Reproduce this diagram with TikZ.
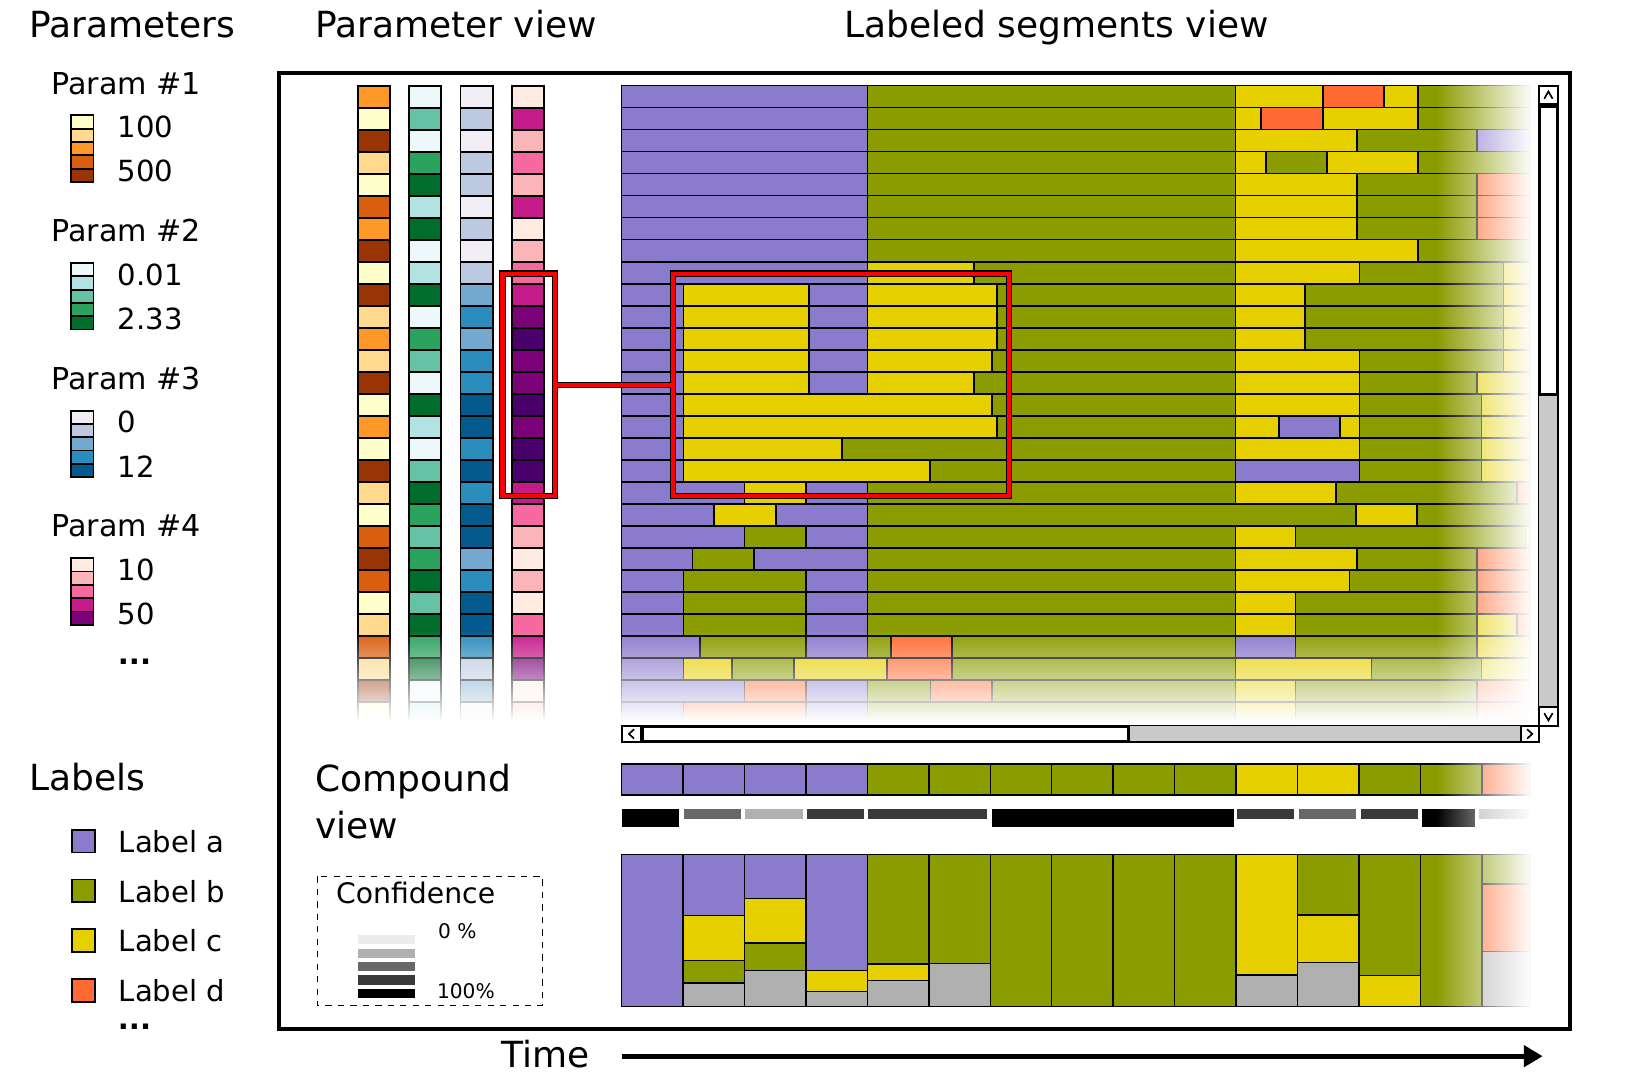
\documentclass[tikz,border=0pt]{standalone}
\usepackage{fontspec}
\setmainfont{DejaVu Sans}
\usetikzlibrary{arrows.meta,fadings}

\definecolor{la}{HTML}{8B7BCC}
\definecolor{lb}{HTML}{8B9C00}
\definecolor{lc}{HTML}{E6D000}
\definecolor{ld}{HTML}{FF6B33}
\definecolor{lg}{HTML}{B0B0B0}
\definecolor{pa1}{HTML}{FFFFCC}\definecolor{pa2}{HTML}{FED98E}\definecolor{pa3}{HTML}{FE9929}
\definecolor{pa4}{HTML}{D95F0E}\definecolor{pa5}{HTML}{993404}
\definecolor{pb1}{HTML}{EDF8FB}\definecolor{pb2}{HTML}{B2E2E2}\definecolor{pb3}{HTML}{66C2A4}
\definecolor{pb4}{HTML}{2CA25F}\definecolor{pb5}{HTML}{006D2C}
\definecolor{pc1}{HTML}{F1EEF6}\definecolor{pc2}{HTML}{BDC9E1}\definecolor{pc3}{HTML}{74A9CF}
\definecolor{pc4}{HTML}{2B8CBE}\definecolor{pc5}{HTML}{045A8D}
\definecolor{pd1}{HTML}{FEEBE2}\definecolor{pd2}{HTML}{FBB4B9}\definecolor{pd3}{HTML}{F768A1}
\definecolor{pd4}{HTML}{C51B8A}\definecolor{pd5}{HTML}{7A0177}\definecolor{pd6}{HTML}{49006A}
\definecolor{cf0}{HTML}{ECECEC}\definecolor{cf1}{HTML}{B0B0B0}\definecolor{cf2}{HTML}{686868}
\definecolor{cf3}{HTML}{3A3A3A}\definecolor{cf4}{HTML}{000000}

\tikzset{
  seg/.style={draw=black, line width=0.75pt},
  cell/.style={draw=black, line width=0.9pt},
  ttl/.style={anchor=base west, inner sep=0pt, font=\fontsize{17.3}{20}\selectfont},
  itm/.style={anchor=base west, inner sep=0pt, font=\fontsize{14}{17}\selectfont},
  tiny/.style={anchor=base west, inner sep=0pt, font=\fontsize{9.7}{12}\selectfont},
  selbox/.style={draw=black, double=red, line width=0.5pt, double distance=2.2pt,
    inner sep=0pt, outer sep=0pt, minimum height=106.8pt},
  sellink/.style={draw=black, double=red, line width=0.5pt, double distance=2.2pt},
  knob/.style={draw=black, line width=1pt, fill=white},
  trough/.style={draw=black, line width=0.8pt, fill=black!21},
  timeline/.style={line width=2.5pt, -{Triangle[length=9pt,width=10pt]}}
}

\begin{document}
\begin{tikzpicture}[x=0.5pt, y=-0.5pt]
\useasboundingbox (0,0) rectangle (1568,1039);

\node[ttl] (ttlparams) at (28,36) {Parameters};
\node[ttl] (ttlpview) at (303,36) {Parameter view};
\node[ttl] (ttlseg) at (812,36) {Labeled segments view};

\foreach \i/\lo/\hi/\p in {1/100/500/pa, 2/0.01/2.33/pb, 3/0/12/pc, 4/10/50/pd} {
  \pgfmathsetmacro\yb{90.5+142*(\i-1)}
  \node[itm, font=\fontsize{14.5}{17}\selectfont] (param\i) at (49,\yb) {Param \#\i};
  \node[itm] (lo\i) at (113,\yb+42) {\lo};
  \node[itm] (hi\i) at (113,\yb+84.5) {\hi};
  \foreach \j in {1,...,5}
    \draw[cell, fill=\p\j] (68,\yb+20.5+12.8*\j-12.8) rectangle (90,\yb+20.5+12.8*\j);
}
\node[itm, font=\fontsize{14}{17}\selectfont\bfseries] (moreparams) at (113,639) {...};

\node[ttl] (ttllabels) at (28,760.6) {Labels};
\foreach \c/\t [count=\i from 0] in {la/a, lb/b, lc/c, ld/d} {
  \draw[cell, fill=\c] (69,798+48*\i) rectangle (91,820+48*\i);
  \node[itm] (label\t) at (114,819.7+48*\i) {Label \t};
}
\node[itm, font=\fontsize{14}{17}\selectfont\bfseries] (morelabels) at (113,990) {...};

\foreach \k/\a/\b/\c/\d in {0/3/1/1/1, 1/1/3/2/4, 2/5/1/1/2, 3/2/4/2/3, 4/1/5/2/2, 5/4/2/1/4,
    6/3/5/2/1, 7/5/1/1/2, 8/1/2/2/3, 9/5/5/3/4, 10/2/1/4/5, 11/3/4/3/6, 12/2/3/4/5, 13/5/1/4/5,
    14/1/5/5/6, 15/3/2/5/5, 16/1/1/4/6, 17/5/3/5/6, 18/2/5/4/4, 19/1/4/5/3, 20/4/3/5/2,
    21/5/4/3/1, 22/4/5/4/2, 23/1/3/5/1, 24/2/5/5/3, 25/4/4/4/4, 26/2/5/2/5, 27/5/1/3/1, 28/1/2/1/2} {
  \pgfmathsetmacro\ya{82.4+21.17*\k}
  \pgfmathsetmacro\yb{\ya+21.17}
  \draw[cell, fill=pa\a] (344,\ya) rectangle (375,\yb);
  \draw[cell, fill=pb\b] (393.5,\ya) rectangle (424.5,\yb);
  \draw[cell, fill=pc\c] (443,\ya) rectangle (474,\yb);
  \draw[cell, fill=pd\d] (492.5,\ya) rectangle (523.5,\yb);
}

\foreach \k/\s in {
    0/{834.5/la,1188.5/lb,1272.8/lc,1331.4/ld,1363.9/lc,1472/lb},
    1/{834.5/la,1188.5/lb,1213/lc,1272.8/ld,1363.9/lc,1472/lb},
    2/{834.5/la,1188.5/lb,1305.4/lc,1420.9/lb,1472/la},
    3/{834.5/la,1188.5/lb,1217.6/lc,1276.7/lb,1363.9/lc,1472/lb},
    4/{834.5/la,1188.5/lb,1305.4/lc,1420.9/lb,1472/ld},
    5/{834.5/la,1188.5/lb,1305.4/lc,1420.9/lb,1472/ld},
    6/{834.5/la,1188.5/lb,1305.4/lc,1420.9/lb,1472/ld},
    7/{834.5/la,1188.5/lb,1363.9/lc,1472/lb},
    8/{834.5/la,937/lc,1188.5/lb,1307.9/lc,1446.2/lb,1472/lc},
    9/{657.4/la,778/lc,834.5/la,959/lc,1188.5/lb,1255.3/lc,1446.2/lb,1472/lc},
    10/{657.4/la,778/lc,834.5/la,959/lc,1188.5/lb,1255.3/lc,1446.2/lb,1472/lc},
    11/{657.4/la,778/lc,834.5/la,959/lc,1188.5/lb,1255.3/lc,1446.2/lb,1472/lc},
    12/{657.4/la,778/lc,834.5/la,954/lc,1188.5/lb,1307.9/lc,1446.2/lb,1472/lc},
    13/{657.4/la,778/lc,834.5/la,937/lc,1188.5/lb,1307.9/lc,1420.9/lb,1472/lc},
    14/{657.4/la,954/lc,1188.5/lb,1307.9/lc,1425/lb,1472/lc},
    15/{657.4/la,959/lc,1188.5/lb,1230.6/lc,1289.1/la,1307.9/lc,1425/lb,1472/lc},
    16/{657.4/la,810/lc,1188.5/lb,1307.9/lc,1425/lb,1472/lc},
    17/{657.4/la,894.7/lc,1188.5/lb,1307.9/la,1425/lb,1472/lc},
    18/{716/la,775.4/lc,834.5/la,1188.5/lb,1284.9/lc,1459.2/lb,1472/ld},
    19/{687/la,746.5/lc,834.5/la,1304.4/lb,1363.2/lc,1472/lb},
    20/{716/la,775.4/lb,834.5/la,1188.5/lb,1246.2/lc,1467.3/lb,1472/lc},
    21/{666/la,725.4/lb,834.5/la,1188.5/lb,1305.4/lc,1420.9/lb,1472/ld},
    22/{657.4/la,775.4/lb,834.5/la,1188.5/lb,1298.2/lc,1420.9/lb,1472/ld},
    23/{657.4/la,775.4/lb,834.5/la,1188.5/lb,1246.2/lc,1420.9/lb,1472/ld},
    24/{657.4/la,775.4/lb,834.5/la,1188.5/lb,1246.2/lc,1420.9/lb,1459.2/lc,1472/ld},
    25/{673.4/la,775.4/lb,834.5/la,857/lb,916/ld,1188.5/lb,1246.2/la,1420.9/lb,1472/lc},
    26/{657.4/la,704/lc,764/lb,853/lc,916/ld,1188.5/lb,1319.4/lc,1425/lb,1472/lc},
    27/{716/la,775.4/ld,834.5/la,895/lb,954.3/ld,1188.5/lb,1246.2/lc,1420.9/lb,1472/ld},
    28/{657.4/la,775.4/ld,834.5/la,1188.5/lb,1246.2/lc,1420.9/lb,1472/ld}} {
  \pgfmathsetmacro\ya{82.4+21.17*\k}
  \pgfmathsetmacro\yb{\ya+21.17}
  \foreach \x/\c [remember=\x as \lx (initially 598)] in \s
    \draw[seg, fill=\c] (\lx,\ya) rectangle (\x,\yb);
}

\fill[white, path fading=west] (1382,78) rectangle (1474,697);
\fill[white, path fading=north] (338,606) rectangle (530,694);
\fill[white, path fading=north] (594,606) rectangle (1474,694);
\fill[white] (338,694) rectangle (1474,697);

\node[selbox, minimum width=25.3pt] (sel) at (508.7,370.2) {};
\node[selbox, minimum width=161.5pt] (zoom) at (809,370.2) {};
\draw[sellink] ([xshift=1.1pt]sel.east) -- ([xshift=-1.1pt]zoom.west);
\draw[red, line width=2.2pt] (sel.east) -- (zoom.west);

\draw[trough] (1480,82.6) rectangle (1499,698);
\draw[knob] (1480,82.6) rectangle (1499,100);
\draw[knob, line width=1.4pt] (1481,102.5) rectangle (1498,379.5);
\draw[knob] (1480,680.5) rectangle (1499,698);
\draw[line width=0.8pt] (1485.5,95) -- (1489.5,88) -- (1493.5,95);
\draw[line width=0.8pt] (1485.5,686) -- (1489.5,693) -- (1493.5,686);
\draw[trough] (598,698) rectangle (1480,714);
\draw[knob] (598,698) rectangle (617,714);
\draw[knob, line width=1.4pt] (618,699) rectangle (1085.8,713);
\draw[knob] (1463,698) rectangle (1480,714);
\draw[line width=0.8pt] (610,701.5) -- (605,706) -- (610,710.5);
\draw[line width=0.8pt] (1469,701.5) -- (1474,706) -- (1469,710.5);

\node[ttl] (ttlcomp) at (303,761) {Compound};
\node[ttl] (ttlcomp2) at (303,807) {view};

\foreach \c [count=\i from 0] in {la,la,la,la,lb,lb,lb,lb,lb,lb,lc,lc,lb,lb,ld} {
  \pgfmathsetmacro\xa{598+59.1*\i}
  \pgfmathsetmacro\xb{min(\xa+59.1,1472)}
  \draw[seg, fill=\c] (\xa,735) rectangle (\xb,765);
}
\foreach \xa/\xb/\c/\yb in {598/653.6/cf4/796, 657.5/713/cf2/787.6, 716.6/772/cf1/787.6,
    776/831/cf3/787.6, 835/949.4/cf3/787.6, 953.8/1186.6/cf4/796, 1190/1245/cf3/787.6,
    1249.5/1304.6/cf2/787.6, 1309/1364/cf3/787.6, 1367.6/1418.8/cf4/796, 1423/1472/cf1/787.6}
  \fill[\c] (\xa,778) rectangle (\xb,\yb);
\foreach \s [count=\i from 0] in {{968/la}, {880.8/la,924/lc,945.6/lb,968/lg},
    {864.5/la,907/lc,933.4/lb,968/lg}, {933.4/la,953.6/lc,968/lg}, {927.3/lb,943/lc,968/lg},
    {927/lb,968/lg}, {968/lb}, {968/lb}, {968/lb}, {968/lb}, {938/lc,968/lg},
    {880/lb,925.7/lc,968/lg}, {938.2/lb,968/lc}, {968/lb}, {850.4/lb,915.4/ld,968/lg}} {
  \pgfmathsetmacro\xa{598+59.1*\i}
  \pgfmathsetmacro\xb{min(\xa+59.1,1472)}
  \foreach \y/\c [remember=\y as \ly (initially 822)] in \s
    \draw[seg, fill=\c] (\xa,\ly) rectangle (\xb,\y);
}
\fill[white, path fading=west] (1382,728) rectangle (1474,974);

\draw[dashed, line width=0.5pt] (305,843) rectangle (522,967);
\node[itm, font=\fontsize{13.6}{16}\selectfont] (conf) at (323,869) {Confidence};
\foreach \c [count=\i from 0] in {cf0,cf1,cf2,cf3,cf4}
  \fill[\c] (344,899.6+12.85*\i) rectangle (399.4,908.5+12.85*\i);
\node[tiny] (conflo) at (421,902.5) {0 \%};
\node[tiny] (confhi) at (420,960.5) {100\%};

\draw[line width=2pt] (268,70) rectangle (1510,990);

\node[ttl] (time) at (482,1027) {Time};
\coordinate (tstart) at (598,1016);
\coordinate (tend) at (1484,1016);
\draw[timeline] (tstart) -- (tend);
\end{tikzpicture}
\end{document}
